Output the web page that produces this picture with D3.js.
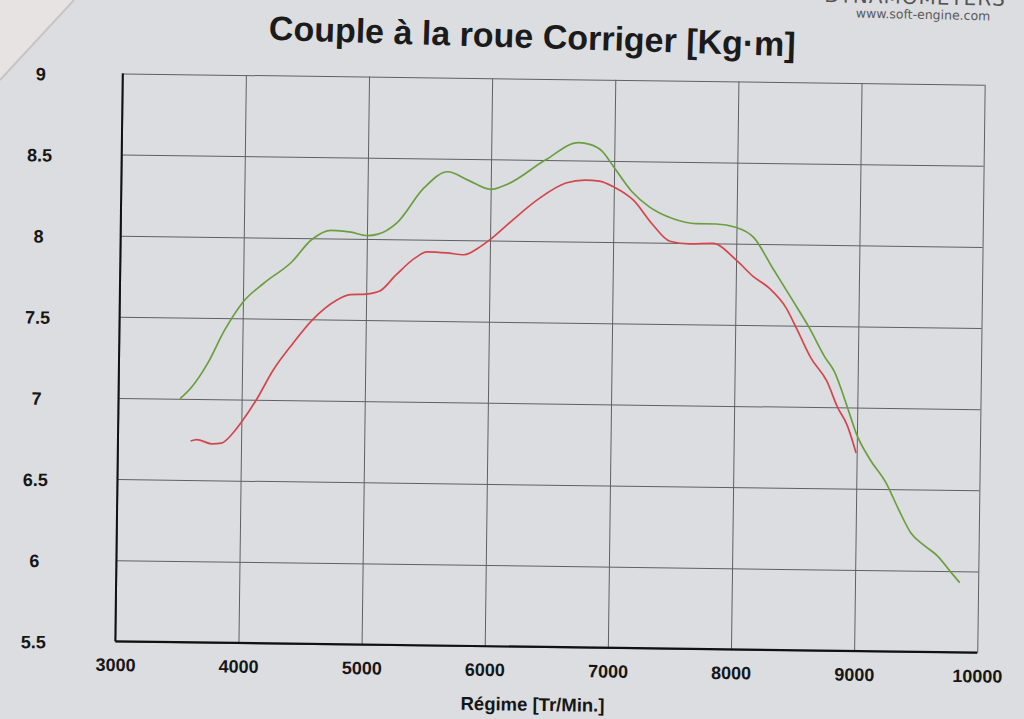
<!DOCTYPE html>
<html><head><meta charset="utf-8">
<script src="https://cdn.jsdelivr.net/npm/d3@7"></script>
<style>body{margin:0;background:#dcdde0;} svg{display:block}</style>
</head><body>
<svg id="chart" width="1024" height="719"></svg>
<script>
const rpmTicks = [3000, 4000, 5000, 6000, 7000, 8000, 9000, 10000];
const torqueTicks = [5.5, 6, 6.5, 7, 7.5, 8, 8.5, 9];
const torqueTickLabels = ["5.5", "6", "6.5", "7", "7.5", "8", "8.5", "9"];

const greenRpm = [3500, 3590, 3720, 3850, 4000, 4170, 4390, 4550, 4710, 4870, 5000, 5090, 5240, 5460, 5650, 5815, 6000, 6140, 6440, 6710, 6800, 6900, 7000, 7150, 7290, 7480, 7670, 7835, 8000, 8140, 8300, 8460, 8600, 8730, 8810, 8920, 9000, 9110, 9240, 9350, 9450, 9560, 9670, 9770, 9850];
const greenTorque = [7.00, 7.07, 7.22, 7.42, 7.60, 7.72, 7.85, 7.99, 8.05, 8.04, 8.02, 8.03, 8.10, 8.32, 8.42, 8.37, 8.315, 8.35, 8.50, 8.61, 8.60, 8.56, 8.46, 8.31, 8.22, 8.15, 8.12, 8.12, 8.10, 8.04, 7.85, 7.66, 7.49, 7.31, 7.22, 7.00, 6.83, 6.68, 6.54, 6.37, 6.23, 6.155, 6.09, 6.00, 5.93];

const redRpm = [3590, 3640, 3760, 3840, 3930, 4000, 4120, 4250, 4410, 4570, 4760, 4870, 5000, 5110, 5240, 5400, 5490, 5650, 5790, 5900, 6000, 6170, 6390, 6610, 6770, 6880, 7000, 7160, 7320, 7460, 7620, 7810, 8000, 8140, 8270, 8410, 8500, 8620, 8750, 8840, 8920, 8995];
const redTorque = [6.74, 6.75, 6.725, 6.73, 6.79, 6.86, 7.00, 7.18, 7.35, 7.50, 7.62, 7.655, 7.66, 7.68, 7.78, 7.89, 7.925, 7.92, 7.91, 7.95, 8.005, 8.12, 8.26, 8.36, 8.38, 8.375, 8.34, 8.26, 8.11, 8.01, 7.995, 8.00, 7.90, 7.80, 7.73, 7.61, 7.48, 7.30, 7.16, 7.00, 6.89, 6.72];

const titleText = "Couple à la roue Corriger [Kg·m]";
const xAxisTitle = "Régime [Tr/Min.]";
const watermark = "www.soft-engine.com";
const brandText = "DYNAMOMETERS";

const svg = d3.select("#chart");
const W = 1024, H = 719;
const L = 119, R = 981, T = 79, B = 647;

svg.append("rect").attr("width", W).attr("height", H).attr("fill", "#dcdde0");
// paper corner (photo)
svg.append("polygon").attr("points", "0,0 74,0 0,80").attr("fill", "#e6e3e2");
svg.append("line").attr("x1", 74).attr("y1", 0).attr("x2", 0).attr("y2", 80)
  .attr("stroke", "#c9c4c3").attr("stroke-width", 2);

const x = d3.scaleLinear().domain([3000, 10000]).range([L, R]);
const y = d3.scaleLinear().domain([5.5, 9]).range([B, T]);

const g = svg.append("g").attr("transform", "rotate(0.75 550 363)");

// vertical grid + x labels
const gx = g.append("g").attr("transform", `translate(0,${B})`)
  .call(d3.axisBottom(x).tickValues(rpmTicks).tickSize(-(B - T)).tickPadding(17).tickFormat(d3.format("d")));
gx.select(".domain").remove();
gx.selectAll(".tick line").attr("stroke", "#5f6062").attr("stroke-width", 1);
gx.selectAll(".tick text").attr("font-family", "Liberation Sans, Arial, sans-serif")
  .attr("font-weight", "bold").attr("font-size", 18).attr("fill", "#161616");

// horizontal grid + y labels
const gy = g.append("g").attr("transform", `translate(${L},0)`)
  .call(d3.axisLeft(y).tickValues(torqueTicks).tickSize(-(R - L)).tickFormat((d, i) => torqueTickLabels[i]));
gy.select(".domain").remove();
gy.selectAll(".tick line").attr("stroke", "#5f6062").attr("stroke-width", 1);
gy.selectAll(".tick text").attr("font-family", "Liberation Sans, Arial, sans-serif")
  .attr("font-weight", "bold").attr("font-size", 18).attr("fill", "#161616")
  .attr("text-anchor", "middle").attr("x", 37 - L).attr("dy", "0.42em");

// main axes lines
g.append("line").attr("x1", x(3000)).attr("x2", x(3000)).attr("y1", y(9)).attr("y2", y(5.5))
  .attr("stroke", "#111").attr("stroke-width", 2);
g.append("line").attr("x1", x(3000)).attr("x2", x(10000)).attr("y1", y(5.5)).attr("y2", y(5.5))
  .attr("stroke", "#111").attr("stroke-width", 2.2);

const line = d3.line().x(d => x(d[0])).y(d => y(d[1])).curve(d3.curveMonotoneX);
g.append("path").datum(d3.zip(greenRpm, greenTorque)).attr("d", line)
  .attr("fill", "none").attr("stroke", "#6a9f3e").attr("stroke-width", 1.7);
g.append("path").datum(d3.zip(redRpm, redTorque)).attr("d", line)
  .attr("fill", "none").attr("stroke", "#d4464c").attr("stroke-width", 1.7);

g.append("text").attr("x", 537).attr("y", 711).attr("text-anchor", "middle")
  .attr("font-family", "Liberation Sans, Arial, sans-serif").attr("font-weight", "bold")
  .attr("font-size", 18.5).attr("fill", "#161616").text(xAxisTitle);

// title
svg.append("text").attr("transform", "translate(532,48) rotate(1.8)").attr("text-anchor", "middle")
  .attr("font-family", "Liberation Sans, Arial, sans-serif").attr("font-weight", "bold")
  .attr("font-size", 34).attr("fill", "#1b1b1b").text(titleText);

// brand / watermark (brand line is cut by the photo's top edge, as in the reference)
svg.append("text").attr("transform", "translate(915,4) rotate(1.2)").attr("text-anchor", "middle")
  .attr("font-family", "DejaVu Sans, sans-serif").attr("font-size", 20).attr("letter-spacing", 1)
  .attr("fill", "#555").text(brandText);
svg.append("text").attr("transform", "translate(923,19) rotate(1.2)").attr("text-anchor", "middle")
  .attr("font-family", "DejaVu Sans, sans-serif").attr("font-size", 12.5)
  .attr("fill", "#5a5a5a").text(watermark);
</script>
</body></html>
